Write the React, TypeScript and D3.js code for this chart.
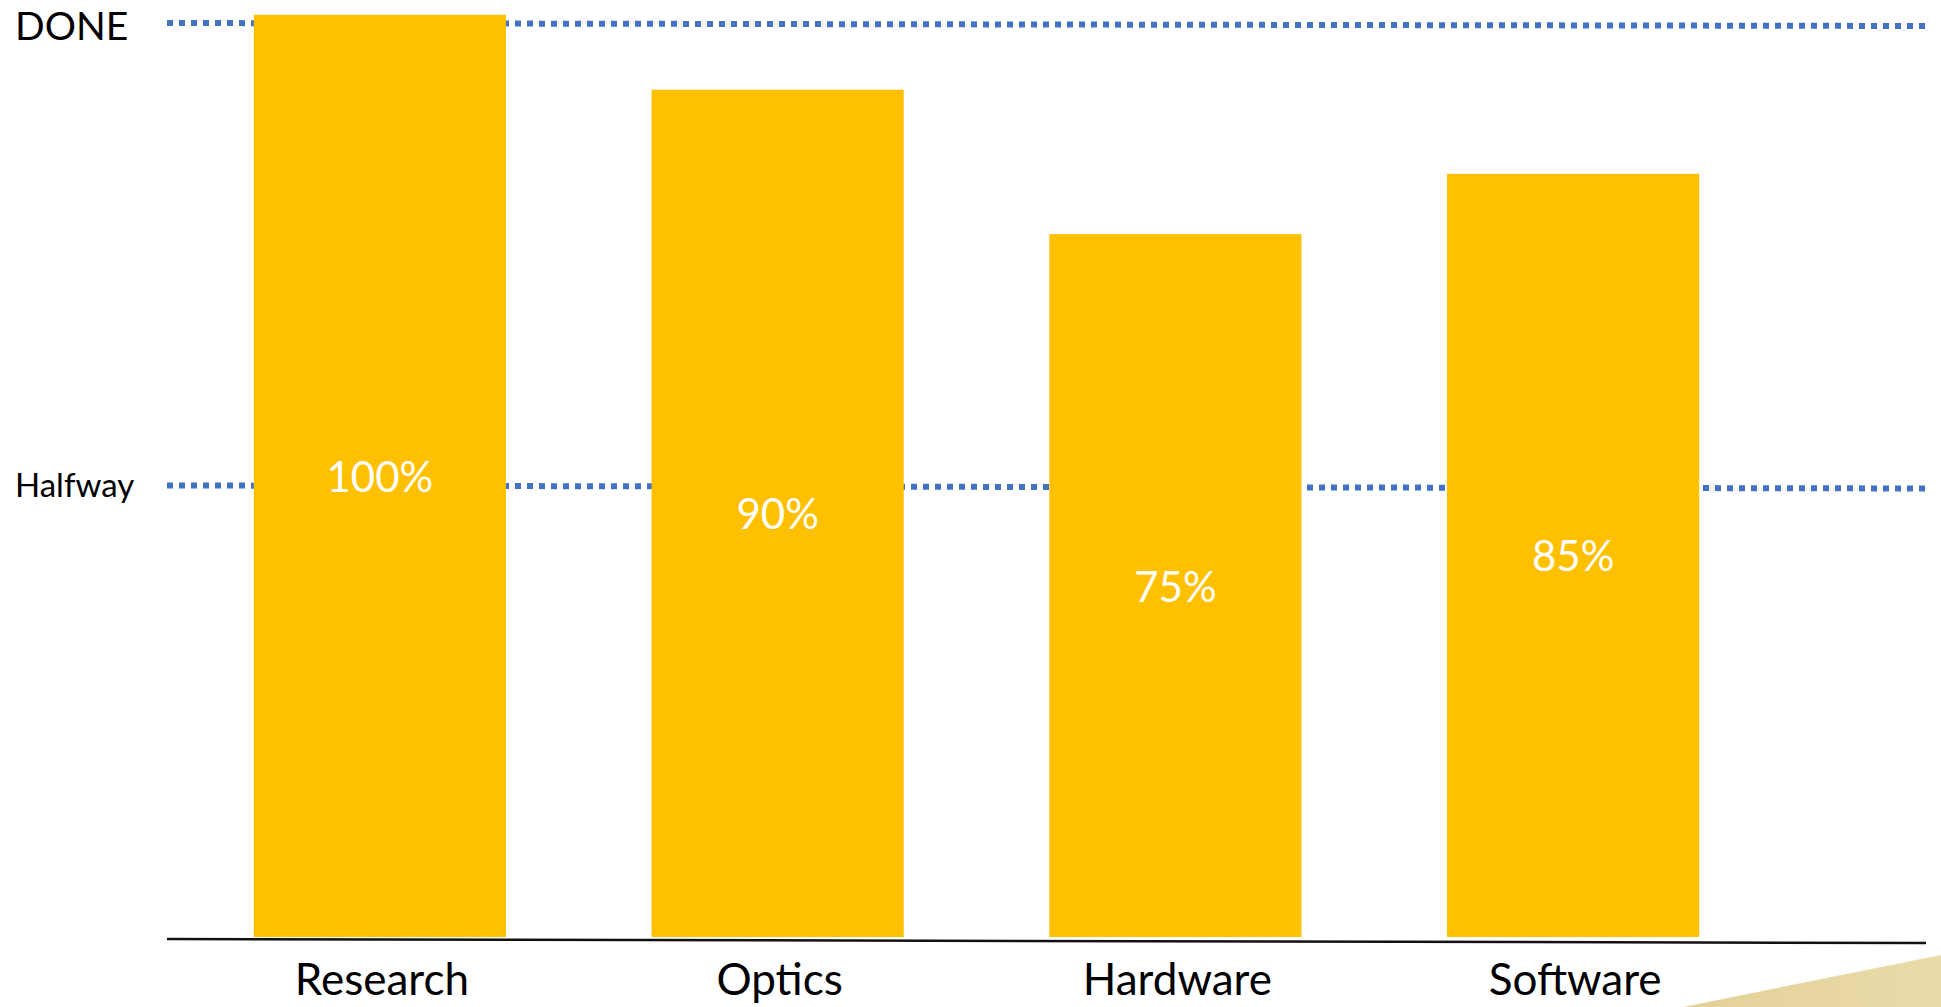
import React from "react";
import * as d3 from "d3";

const categories = ["Research", "Optics", "Hardware", "Software"];
const barValues = [100.9, 92.7, 76.9, 83.5];
const valueLabels = ["100%", "90%", "75%", "85%"];
const refLabels = ["DONE", "Halfway"];
const refValues = [100, 49.4];

const W = 1941;
const H = 1007;
const FONT = "Lato, 'Noto Sans', sans-serif";

export default function App() {
  const x = d3
    .scaleBand<string>()
    .domain(categories)
    .range([181, 1772])
    .paddingInner(0.366)
    .paddingOuter(0.183);
  const y = d3.scaleLinear().domain([0, 100]).range([937, 23]);
  const lineX0 = 167;
  const lineX1 = 1926;
  const tilt = 3;

  return (
    <svg
      width={W}
      height={H}
      style={{ position: "absolute", left: 0, top: 0, background: "#fff" }}
    >
      <defs>
        <linearGradient id="tri" x1="0" x2="1" y1="0" y2="0">
          <stop offset="0" stopColor="#E4D199" />
          <stop offset="1" stopColor="#EADBAA" />
        </linearGradient>
      </defs>
      {refValues.map((v, i) => (
        <g key={refLabels[i]}>
          <line
            x1={lineX0}
            x2={lineX1}
            y1={y(v)}
            y2={y(v) + tilt}
            stroke="#4472C4"
            strokeWidth={6}
            strokeDasharray="6 6"
          />
          <text
            x={i === 0 ? 15 : 15}
            y={i === 0 ? y(v) + 16.5 : y(v) + 12}
            fontFamily={FONT}
            fontSize={i === 0 ? 39 : 33}
            fill="#000"
          >
            {refLabels[i]}
          </text>
        </g>
      ))}
      {categories.map((c, i) => {
        const bx = x(c)!;
        const top = y(barValues[i]);
        const bottom = y(0);
        return (
          <g key={c}>
            <rect
              x={bx}
              y={top}
              width={x.bandwidth()}
              height={bottom - top}
              fill="#FFC000"
            />
            <text
              x={bx + x.bandwidth() / 2}
              y={(top + bottom) / 2 + 16}
              textAnchor="middle"
              fontFamily={FONT}
              fontSize={42}
              fill="#fff"
            >
              {valueLabels[i]}
            </text>
            <text
              x={bx + x.bandwidth() / 2 + 2}
              y={995}
              textAnchor="middle"
              fontFamily={FONT}
              fontSize={44}
              fill="#000"
            >
              {c}
            </text>
          </g>
        );
      })}
      <line
        x1={lineX0}
        x2={lineX1}
        y1={y(0) + 2}
        y2={y(0) + 6}
        stroke="#111"
        strokeWidth={2.5}
      />
      <polygon
        points={`1683,${H} ${W},955 ${W},${H}`}
        fill="url(#tri)"
      />
    </svg>
  );
}
